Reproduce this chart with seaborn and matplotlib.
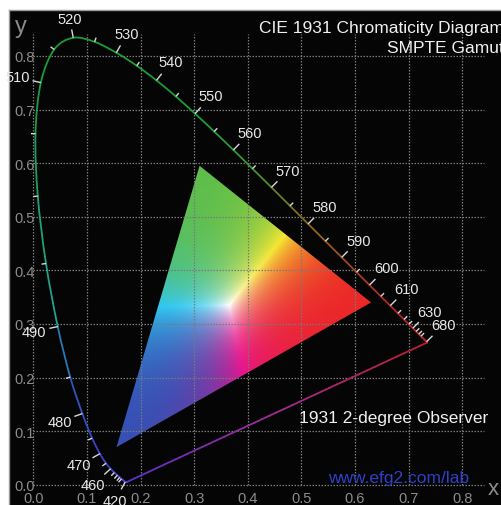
import numpy as np
import pandas as pd
import matplotlib
matplotlib.use("Agg")
import matplotlib.pyplot as plt
import matplotlib.colors as mcolors
import seaborn as sns
from matplotlib.collections import LineCollection
from matplotlib.patches import Polygon, PathPatch
from matplotlib.path import Path

# ---------------- data ----------------
# CIE 1931 2-degree observer spectral locus (chromaticity x, y)
wavelengths = [380, 385, 390, 395, 400, 405, 410, 415, 420, 425, 430, 435, 440,
               445, 450, 455, 460, 465, 470, 475, 480, 485, 490, 495, 500, 505,
               510, 515, 520, 525, 530, 535, 540, 545, 550, 555, 560, 565, 570,
               575, 580, 585, 590, 595, 600, 605, 610, 615, 620, 625, 630, 635,
               640, 645, 650, 655, 660, 665, 670, 680, 690, 700]
locus_x = [0.1741, 0.1740, 0.1738, 0.1736, 0.1733, 0.1730, 0.1726, 0.1721, 0.1714,
           0.1703, 0.1689, 0.1669, 0.1644, 0.1611, 0.1566, 0.1510, 0.1440, 0.1355,
           0.1241, 0.1096, 0.0913, 0.0687, 0.0454, 0.0235, 0.0082, 0.0039, 0.0139,
           0.0389, 0.0743, 0.1142, 0.1547, 0.1929, 0.2296, 0.2658, 0.3016, 0.3373,
           0.3731, 0.4087, 0.4441, 0.4788, 0.5125, 0.5448, 0.5752, 0.6029, 0.6270,
           0.6482, 0.6658, 0.6801, 0.6915, 0.7006, 0.7079, 0.7140, 0.7190, 0.7230,
           0.7260, 0.7283, 0.7300, 0.7311, 0.7320, 0.7334, 0.7344, 0.7347]
locus_y = [0.0050, 0.0050, 0.0049, 0.0049, 0.0048, 0.0048, 0.0048, 0.0048, 0.0051,
           0.0058, 0.0069, 0.0086, 0.0109, 0.0138, 0.0177, 0.0227, 0.0297, 0.0399,
           0.0578, 0.0868, 0.1327, 0.2007, 0.2950, 0.4127, 0.5384, 0.6548, 0.7502,
           0.8120, 0.8338, 0.8262, 0.8059, 0.7816, 0.7543, 0.7243, 0.6923, 0.6589,
           0.6245, 0.5896, 0.5547, 0.5202, 0.4866, 0.4544, 0.4242, 0.3965, 0.3725,
           0.3514, 0.3340, 0.3197, 0.3083, 0.2993, 0.2920, 0.2859, 0.2809, 0.2770,
           0.2740, 0.2717, 0.2700, 0.2689, 0.2680, 0.2666, 0.2656, 0.2653]

labeled_nm = [420, 460, 470, 480, 490, 510, 520, 530, 540, 550, 560, 570, 580,
              590, 600, 610, 630, 680]
minor_tick_nm = [440, 445, 450, 455, 465, 475, 485, 495, 500, 505, 515, 525, 535,
                 545, 555, 565, 575, 585, 595, 605, 615, 620, 625, 635, 640, 645]

# SMPTE gamut primaries (R, G, B)
gamut_x = [0.630, 0.310, 0.155]
gamut_y = [0.340, 0.595, 0.070]

x_ticks = [0.0, 0.1, 0.2, 0.3, 0.4, 0.5, 0.6, 0.7, 0.8]
y_ticks = [0.0, 0.1, 0.2, 0.3, 0.4, 0.5, 0.6, 0.7, 0.8]
x_tick_labels = ["0.0", "0.1", "0.2", "0.3", "0.4", "0.5", "0.6", "0.7", "0.8"]
y_tick_labels = ["0.0", "0.1", "0.2", "0.3", "0.4", "0.5", "0.6", "0.7", "0.8"]

title_lines = ["CIE 1931 Chromaticity Diagram", "SMPTE Gamut"]
observer_text = "1931 2-degree Observer"
site_text = "www.efg2.com/lab"

# ---------------- style ----------------
sns.set_style("dark")
plt.rcParams['font.family'] = ['Liberation Sans', 'DejaVu Sans']

W_PX, H_PX = 502, 506
fig = plt.figure(figsize=(W_PX / 100, H_PX / 100), dpi=100, facecolor="white")
ax = fig.add_axes([9 / W_PX, 0, (W_PX - 9) / W_PX, (H_PX - 11) / H_PX])
ax.set_facecolor("#050505")

PX = 536.0  # pixels per data unit
x0_px, y0_px = 33.4, 485.7
ax.set_xlim((9 - x0_px) / PX, (W_PX - x0_px) / PX)
ax.set_ylim((y0_px - H_PX) / PX, (y0_px - 11) / PX)

for s in ["right", "bottom"]:
    ax.spines[s].set_visible(False)
for s in ["top", "left"]:
    ax.spines[s].set_color("#9a9a9a")
    ax.spines[s].set_linewidth(1.0)
ax.grid(False)

# ---------------- gamut triangle ----------------
(x1, x2, x3), (y1, y2, y3) = gamut_x, gamut_y
ext = [min(gamut_x) - 0.005, max(gamut_x) + 0.005, min(gamut_y) - 0.005, max(gamut_y) + 0.005]
gx = np.linspace(ext[0], ext[1], 700)
gy = np.linspace(ext[2], ext[3], 700)
X, Y = np.meshgrid(gx, gy)
det = (y2 - y3) * (x1 - x3) + (x3 - x2) * (y1 - y3)
wr = ((y2 - y3) * (X - x3) + (x3 - x2) * (Y - y3)) / det
wg = ((y3 - y1) * (X - x3) + (x1 - x3) * (Y - y3)) / det
wb = 1 - wr - wg
Wt = np.clip(np.stack([wr, wg, wb], -1), 0, None)
n = Wt / np.maximum(Wt.max(-1, keepdims=True), 1e-9)
n = n ** 1.8
corner_cols = {
    (0, 0, 0): "#000000", (1, 0, 0): "#eb2828", (0, 1, 0): "#5fbe4b",
    (0, 0, 1): "#3750b4", (1, 1, 0): "#f5e630", (0, 1, 1): "#32c8f0",
    (1, 0, 1): "#e8148c", (1, 1, 1): "#ffffff",
}
img = np.zeros(X.shape + (4,))
for (cr, cg, cb), hexc in corner_cols.items():
    wgt = ((n[..., 0] if cr else 1 - n[..., 0]) *
           (n[..., 1] if cg else 1 - n[..., 1]) *
           (n[..., 2] if cb else 1 - n[..., 2]))
    img[..., :3] += wgt[..., None] * np.array(mcolors.to_rgb(hexc))
img[..., 3] = 1.0
im = ax.imshow(np.clip(img, 0, 1), extent=ext, origin="lower", interpolation="bilinear",
               zorder=1, aspect="auto")
tri = Polygon(list(zip(gamut_x, gamut_y)), closed=True, transform=ax.transData)
im.set_clip_path(tri)

# ---------------- grid ----------------
gcol = "#7a7a7a"
ax.vlines(x_ticks, 0, 0.84, colors=gcol, linestyles=(0, (1.2, 1.2)), linewidth=0.9, zorder=2)
ax.hlines(y_ticks, 0, 0.84, colors=gcol, linestyles=(0, (1.2, 1.2)), linewidth=0.9, zorder=2)

# ---------------- spectral locus (smooth coloured curve) ----------------
anchor_nm = [380, 440, 470, 482, 488, 492, 500, 505, 510, 550, 560, 567, 575, 580, 590, 600, 615, 700]
anchor_col = ["#5a32c8", "#4a3ccc", "#3a40c8", "#3050c0", "#2a7ab0", "#20a090", "#20a070",
              "#1e9e48", "#1c9c38", "#1c9c38", "#2a9a34", "#4a9030", "#707828", "#8a6a20",
              "#a04c20", "#a83424", "#b02424", "#b02424"]
anchor_rgb = np.array([mcolors.to_rgb(c) for c in anchor_col])


def nm_color(w):
    return tuple(np.interp(w, anchor_nm, anchor_rgb[:, k]) for k in range(3))


P = np.column_stack([locus_x, locus_y])
npts = len(P)
for i in range(npts - 1):
    pm = P[max(i - 1, 0)]
    p0, p1 = P[i], P[i + 1]
    pp = P[min(i + 2, npts - 1)]
    c1 = p0 + (p1 - pm) / 6.0
    c2 = p1 - (pp - p0) / 6.0
    path = Path([p0, c1, c2, p1], [Path.MOVETO, Path.CURVE4, Path.CURVE4, Path.CURVE4])
    ax.add_patch(PathPatch(path, facecolor="none",
                           edgecolor=nm_color(0.5 * (wavelengths[i] + wavelengths[i + 1])),
                           linewidth=1.3, capstyle="round", zorder=3))

# line of purples (seaborn segments with colour gradient): 700 nm back to 380 nm
rows, palette = [], {}
pur_t = [0.0, 0.5, 1.0]
pur_rgb = np.array([mcolors.to_rgb(c) for c in ["#b82030", "#a02a90", "#5a30c8"]])
nsub = 40
xa, ya, xb, yb = locus_x[-1], locus_y[-1], locus_x[0], locus_y[0]
for k in range(nsub):
    t0, t1 = k / nsub, (k + 1) / nsub
    rows.append((xa + (xb - xa) * t0, ya + (yb - ya) * t0, k))
    rows.append((xa + (xb - xa) * t1, ya + (yb - ya) * t1, k))
    tm = 0.5 * (t0 + t1)
    palette[k] = tuple(np.interp(tm, pur_t, pur_rgb[:, c]) for c in range(3))
df = pd.DataFrame(rows, columns=["x", "y", "seg"])
sns.lineplot(data=df, x="x", y="y", hue="seg", palette=palette, estimator=None,
             sort=False, legend=False, linewidth=1.3, ax=ax, zorder=3,
             solid_capstyle="round")

# ---------------- wavelength ticks & labels ----------------
lx = np.array(locus_x)
ly = np.array(locus_y)
wl = np.array(wavelengths)


def normal_at(w):
    i = int(np.where(wl == w)[0][0])
    a, b = max(i - 1, 0), min(i + 1, len(wl) - 1)
    tx, ty = lx[b] - lx[a], ly[b] - ly[a]
    nx, ny = -ty, tx
    L = np.hypot(nx, ny)
    return lx[i], ly[i], nx / L, ny / L


tick_segs = []
for w in minor_tick_nm:
    px, py, nx, ny = normal_at(w)
    tick_segs.append([(px, py), (px + nx * 4.5 / PX, py + ny * 4.5 / PX)])
for w in labeled_nm:
    px, py, nx, ny = normal_at(w)
    tick_segs.append([(px, py), (px + nx * 8.5 / PX, py + ny * 8.5 / PX)])
    d = 10.5 + 12.5 * abs(nx) + 6.0 * abs(ny)
    ax.text(px + nx * d / PX, py + ny * d / PX, str(w), ha="center", va="center",
            fontsize=10.5, color="#e8e8e8", zorder=5)
ax.add_collection(LineCollection(tick_segs, colors="#d8d8d8", linewidths=1.0, zorder=4))

# ---------------- axis tick labels ----------------
ax.set_xticks(x_ticks)
ax.set_xticklabels(x_tick_labels)
ax.set_yticks(y_ticks)
ax.set_yticklabels(y_tick_labels)
ax.tick_params(axis="x", length=0, pad=-10.0, labelsize=10.5, labelcolor="#8c8c8c")
ax.tick_params(axis="y", length=0, pad=-18.5, labelsize=10.5, labelcolor="#8c8c8c")
for lab in ax.get_xticklabels() + ax.get_yticklabels():
    lab.set_zorder(6)
ax.set_xlabel("")
ax.set_ylabel("")

# axis letters
fig.text(21 / W_PX, 1 - 33 / H_PX, "y", ha="center", va="baseline", fontsize=17,
         color="#8c8c8c")
fig.text(493 / W_PX, 1 - 495 / H_PX, "x", ha="center", va="baseline", fontsize=16,
         color="#8c8c8c")

# ---------------- texts ----------------
fig.text(1.004, 1 - 33 / H_PX, title_lines[0], ha="right", va="baseline",
         fontsize=12.5, color="#f0f0f0")
fig.text(1.004, 1 - 53 / H_PX, title_lines[1], ha="right", va="baseline",
         fontsize=12.5, color="#f0f0f0")
fig.text(394 / W_PX, 1 - 423 / H_PX, observer_text, ha="center", va="baseline",
         fontsize=12.5, color="#f0f0f0")
fig.text(399 / W_PX, 1 - 483 / H_PX, site_text, ha="center", va="baseline",
         fontsize=12.5, color="#3040c8")

fig.savefig("out.png", dpi=100, facecolor="white")
